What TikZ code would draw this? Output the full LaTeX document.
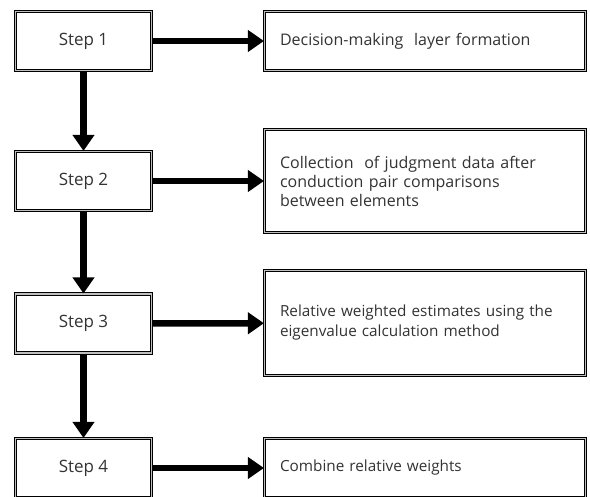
\documentclass[tikz,border=0pt]{standalone}
\usepackage{fontspec}
\setmainfont{Open Sans}
\usetikzlibrary{arrows.meta}

\begin{document}
\begin{tikzpicture}[x=1pt, y=-1pt]
\useasboundingbox (0,0) rectangle (590,497);

\tikzset{StepStyle/.style = {
 draw = black,
 line width = 1.1pt,
 double = gray!50,
 double distance = 1.3pt,
 fill = white,
 text = black!80,
 minimum width = 136pt,
 minimum height = 59pt,
 font = \fontsize{17}{19}\selectfont} }

\tikzset{InfoStyle/.style = {
 StepStyle,
 minimum width = 321pt,
 text width = 290pt,
 align = left,
 font = \fontsize{16}{19}\selectfont} }

\tikzset{ArrowStyle/.style = {
 line width = 6.5pt,
 -{Triangle[length=16pt, width=21pt]}} }

\node[StepStyle] (S1) at (83.5, 41) {Step 1};
\node[StepStyle] (S2) at (83.5, 181) {Step 2};
\node[StepStyle] (S3) at (83.5, 323.5) {Step 3};
\node[StepStyle] (S4) at (83.5, 468) {Step 4};

\node[InfoStyle] (D1) at (425, 41) {Decision-making\ \ layer formation};
\node[InfoStyle, minimum height = 103pt] (D2) at (425, 181)
 {Collection\ \ of judgment data after\\ conduction pair comparisons\\ between elements};
\node[InfoStyle, minimum height = 105pt, font = \fontsize{15.3}{20}\selectfont] (D3) at (425, 323)
 {Relative\ weighted\ estimates\ using the\\ eigenvalue\ calculation\ method};
\node[InfoStyle, font = \fontsize{15.3}{20}\selectfont] (D4) at (425, 468) {Combine\ relative\ weights};

\draw[ArrowStyle] (S1) -- (D1);
\draw[ArrowStyle] (S2) -- (D2);
\draw[ArrowStyle] (S3) -- (D3);
\draw[ArrowStyle] (S4) -- (D4);

\draw[ArrowStyle] (S1) -- (S2);
\draw[ArrowStyle] (S2) -- (S3);
\draw[ArrowStyle] (S3) -- (S4);

\end{tikzpicture}
\end{document}
